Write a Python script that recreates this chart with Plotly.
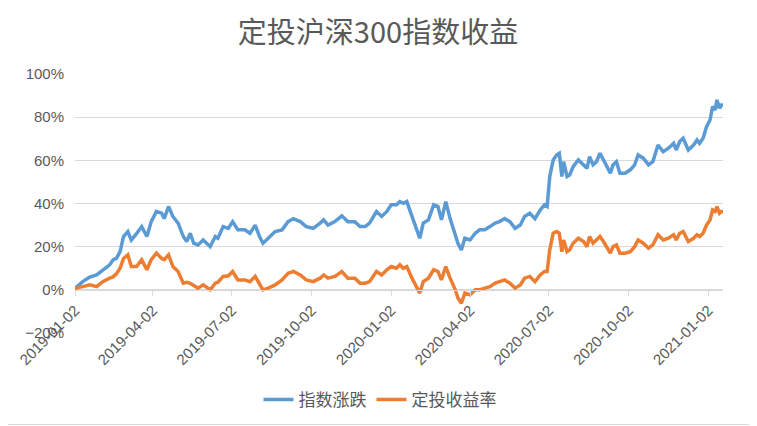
import plotly.graph_objects as go

# 交易日（按图上读取的采样点）
dates = [
    "2019-01-02", "2019-01-03", "2019-01-11", "2019-01-19", "2019-01-27", "2019-02-03",
    "2019-02-11", "2019-02-15", "2019-02-19", "2019-02-23", "2019-02-27", "2019-03-04",
    "2019-03-08", "2019-03-14", "2019-03-20", "2019-03-26", "2019-03-31", "2019-04-06",
    "2019-04-12", "2019-04-15", "2019-04-20", "2019-04-25", "2019-05-01", "2019-05-07",
    "2019-05-11", "2019-05-15", "2019-05-19", "2019-05-24", "2019-05-30", "2019-06-07",
    "2019-06-13", "2019-06-16", "2019-06-22", "2019-06-28", "2019-07-03", "2019-07-09",
    "2019-07-17", "2019-07-23", "2019-07-29", "2019-08-03", "2019-08-07", "2019-08-13",
    "2019-08-21", "2019-08-29", "2019-09-05", "2019-09-11", "2019-09-19", "2019-09-26",
    "2019-10-04", "2019-10-12", "2019-10-16", "2019-10-21", "2019-10-29", "2019-11-06",
    "2019-11-13", "2019-11-21", "2019-11-27", "2019-12-03", "2019-12-08", "2019-12-16",
    "2019-12-22", "2019-12-28", "2020-01-02", "2020-01-08", "2020-01-12", "2020-01-16",
    "2020-01-20", "2020-01-26", "2020-01-31", "2020-02-04", "2020-02-08", "2020-02-14",
    "2020-02-20", "2020-02-25", "2020-02-29", "2020-03-05", "2020-03-10", "2020-03-16",
    "2020-03-19", "2020-03-23", "2020-03-27", "2020-04-02", "2020-04-08", "2020-04-13",
    "2020-04-19", "2020-04-25", "2020-05-01", "2020-05-06", "2020-05-12", "2020-05-18",
    "2020-05-24", "2020-05-30", "2020-06-04", "2020-06-10", "2020-06-16", "2020-06-22",
    "2020-06-27", "2020-06-30", "2020-07-03", "2020-07-07", "2020-07-11", "2020-07-14",
    "2020-07-17", "2020-07-19", "2020-07-23", "2020-07-26", "2020-07-30", "2020-08-05",
    "2020-08-11", "2020-08-15", "2020-08-18", "2020-08-22", "2020-08-26", "2020-08-30",
    "2020-09-03", "2020-09-07", "2020-09-11", "2020-09-14", "2020-09-18", "2020-09-22",
    "2020-09-28", "2020-10-04", "2020-10-09", "2020-10-13", "2020-10-19", "2020-10-25",
    "2020-10-30", "2020-11-05", "2020-11-11", "2020-11-17", "2020-11-23", "2020-11-26",
    "2020-11-30", "2020-12-04", "2020-12-10", "2020-12-16", "2020-12-20", "2020-12-23",
    "2020-12-27", "2020-12-31", "2021-01-04", "2021-01-07", "2021-01-10", "2021-01-12",
    "2021-01-15", "2021-01-17", "2021-01-19",
]

# 指数涨跌 (%)
index_change = [
    0.5, 1.0, 3.8, 5.9, 6.9, 9.3, 11.6, 13.9, 14.7, 17.7, 24.7, 27.0,
    23.0, 26.0, 29.3, 24.7, 31.6, 36.3, 35.5, 33.0, 38.6, 34.0, 30.9, 24.7,
    22.4, 26.2, 21.6, 20.8, 23.1, 20.0, 24.7, 23.9, 29.3, 28.5, 31.6, 27.8,
    27.8, 26.2, 30.0, 24.7, 21.6, 23.9, 27.0, 27.8, 31.6, 33.0, 31.6, 29.3,
    28.5, 30.9, 32.4, 30.0, 31.6, 34.3, 31.6, 31.6, 29.3, 29.3, 30.9, 36.3,
    34.0, 36.3, 39.4, 39.4, 40.9, 40.1, 40.9, 34.0, 28.5, 23.9, 30.9, 32.4,
    39.4, 38.6, 32.4, 40.9, 33.0, 26.2, 21.6, 18.5, 23.9, 23.1, 26.2, 27.8,
    27.8, 29.3, 30.9, 31.6, 33.0, 31.6, 28.5, 30.0, 34.0, 35.5, 33.0, 37.0,
    39.4, 38.6, 52.5, 60.2, 62.5, 63.3, 52.5, 59.4, 52.5, 53.2, 57.1, 60.2,
    57.9, 56.3, 61.7, 57.9, 59.4, 63.3, 60.2, 57.1, 54.0, 57.9, 59.4, 54.0,
    54.0, 55.6, 57.9, 62.5, 61.0, 57.9, 59.4, 67.1, 64.0, 65.6, 67.9, 64.8,
    68.7, 70.2, 64.8, 67.1, 69.4, 67.9, 70.2, 75.6, 78.7, 84.9, 83.3, 88.0,
    84.1, 85.6, 85.6,
]

# 定投收益率 (%)
dca_return = [
    0.0, 0.8, 1.5, 2.3, 1.5, 3.8, 5.4, 6.0, 7.5, 10.0, 14.5, 16.2,
    10.8, 10.8, 13.9, 9.3, 14.0, 17.0, 14.5, 14.0, 16.2, 10.8, 8.5, 3.1,
    3.5, 3.0, 2.0, 0.8, 2.3, 0.0, 3.1, 3.5, 6.2, 6.5, 8.5, 4.6,
    4.6, 3.8, 6.2, 3.1, 0.0, 0.8, 2.3, 4.6, 7.7, 8.5, 6.9, 4.6,
    3.8, 5.4, 6.9, 5.4, 6.2, 8.5, 5.4, 5.4, 3.1, 3.1, 3.8, 8.5,
    6.9, 9.3, 10.8, 10.0, 11.6, 10.0, 10.8, 5.4, 1.5, -1.5, 3.8, 5.4,
    9.3, 8.5, 4.6, 10.8, 5.4, 0.0, -3.8, -6.2, -1.5, -2.3, 0.0, 0.0,
    0.8, 1.5, 3.1, 3.8, 4.6, 3.1, 0.8, 2.3, 5.4, 6.2, 3.8, 6.9,
    8.5, 8.5, 18.5, 26.2, 27.0, 26.2, 17.7, 23.1, 17.7, 18.5, 21.6, 23.9,
    22.4, 20.0, 24.7, 21.6, 23.1, 24.7, 22.4, 20.0, 17.0, 20.0, 20.8, 17.0,
    17.0, 17.7, 20.0, 23.1, 21.6, 19.3, 20.8, 25.5, 23.1, 23.9, 25.5, 23.1,
    26.2, 27.0, 22.4, 23.9, 25.5, 24.7, 26.2, 30.0, 32.4, 37.0, 36.3, 38.6,
    35.5, 36.3, 36.3,
]

tick_dates = ["2019-01-02", "2019-04-02", "2019-07-02", "2019-10-02", "2020-01-02",
              "2020-04-02", "2020-07-02", "2020-10-02", "2021-01-02"]

grey = "#595959"
cjk = "Noto Sans CJK SC"
latin = "Liberation Sans"

# the page puts the figure 8px in from the top-left corner
W, H = 749, 418

fig = go.Figure()
fig.add_trace(go.Scatter(x=dates, y=[v / 100 for v in index_change], mode="lines",
                         name="指数涨跌", line=dict(color="#5b9bd5", width=3.5)))
fig.add_trace(go.Scatter(x=dates, y=[v / 100 for v in dca_return], mode="lines",
                         name="定投收益率", line=dict(color="#ed7d31", width=3.5)))

fig.update_layout(
    width=W, height=H,
    margin=dict(l=67, r=34, t=66, b=93),
    paper_bgcolor="white", plot_bgcolor="white",
    title=dict(text="定投沪深300指数收益", x=(378 - 8) / W, xanchor="center", xref="container",
               y=1 - (33 - 8) / H, yanchor="middle", yref="container",
               font=dict(family=cjk, size=29, color=grey)),
    legend=dict(orientation="h", x=(380 - 8) / W, xanchor="center", xref="container",
                y=1 - (400 - 8) / H, yanchor="middle", yref="container",
                font=dict(family=cjk, size=17, color=grey), itemwidth=30),
    showlegend=True,
)

fig.update_xaxes(
    type="date", range=[dates[0], dates[-1]], automargin=False,
    tickvals=tick_dates, ticktext=tick_dates, tickangle=-45,
    anchor="free", position=0.2 / 1.2,
    showgrid=False, showline=True, linecolor="#d9d9d9", linewidth=1,
    ticks="outside", ticklen=5, tickcolor="#d9d9d9",
    tickfont=dict(family=latin, size=15, color=grey),
)
fig.update_yaxes(
    range=[-0.2, 1.0], dtick=0.2, tick0=0, tickformat=".0%", automargin=False,
    showgrid=True, gridcolor="#d9d9d9", gridwidth=1, zeroline=False,
    showline=False, ticklabelstandoff=10,
    tickfont=dict(family=latin, size=15, color=grey),
)

# 图表外框 (right and bottom edges fall inside the figure)
pw, ph = W - 67 - 34, H - 66 - 93
fig.add_shape(type="rect", xref="paper", yref="paper",
              x0=(-20 - 67) / pw, x1=(W - 1.5 - 67) / pw,
              y0=(ph + 66 - (H - 1.5)) / ph, y1=(ph + 66 + 20) / ph,
              line=dict(color="#d9d9d9", width=1), layer="below")

fig.write_html("out.html")
